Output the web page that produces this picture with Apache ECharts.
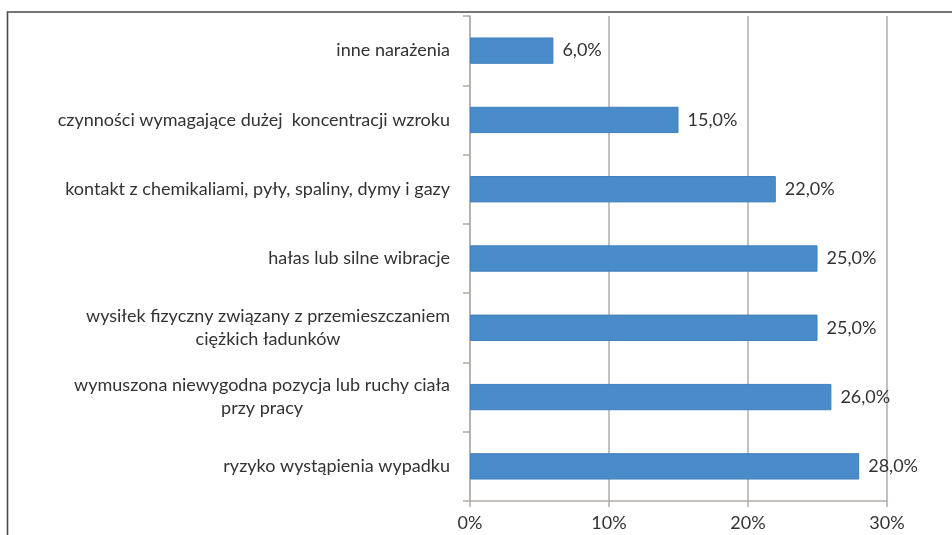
<!DOCTYPE html>
<html lang="pl">
  <head>
    <meta charset="UTF-8" />
    <title>Narażenia</title>
    <style>
      * {
        padding: 0;
        margin: 0;
      }
      html,
      body {
        width: 100%;
        height: 100%;
        background: #fff;
      }
      #main {
        width: 952px;
        height: 535px;
      }
    </style>
  </head>
  <body>
    <div id="main"></div>
    <script src="https://cdn.jsdelivr.net/npm/echarts@6/dist/echarts.min.js"></script>
    <script>
      // kategorie od dołu do góry (oś kategorii w echarts rośnie w górę)
      var categories = [
        'ryzyko wystąpienia wypadku',
        'wymuszona niewygodna pozycja lub ruchy ciała\nprzy pracy',
        'wysiłek fizyczny związany z przemieszczaniem\nciężkich ładunków',
        'hałas lub silne wibracje',
        'kontakt z chemikaliami, pyły, spaliny, dymy i gazy',
        'czynności wymagające dużej  koncentracji wzroku',
        'inne narażenia'
      ];
      var values = [28, 26, 25, 25, 22, 15, 6];
      var xTicks = [0, 10, 20, 30];

      var myChart = echarts.init(document.getElementById('main'));
      var font = 'Lato, "Open Sans", sans-serif';
      var textColor = '#333';
      var gridColor = '#b3aca8';

      var option = {
        animation: false,
        graphic: [
          {
            type: 'rect',
            shape: { x: 7.5, y: 12, width: 960, height: 540 },
            style: { fill: 'none', stroke: '#4a4a4a', lineWidth: 1.6 }
          }
        ],
        grid: {
          left: 470,
          right: 65,
          top: 16,
          bottom: 34,
          containLabel: false
        },
        xAxis: {
          type: 'value',
          min: 0,
          max: 30,
          interval: 10,
          axisLine: { show: true, lineStyle: { color: gridColor, width: 1.5 } },
          axisTick: { show: true, length: 6, lineStyle: { color: gridColor, width: 1.5 } },
          splitLine: { show: true, lineStyle: { color: gridColor, width: 1.5 } },
          axisLabel: {
            margin: 13,
            fontFamily: font,
            fontSize: 18,
            color: textColor,
            formatter: function (v) {
              return xTicks.indexOf(v) >= 0 ? v + '%' : '';
            }
          }
        },
        yAxis: {
          type: 'category',
          data: categories,
          axisLine: { show: true, lineStyle: { color: gridColor, width: 1.5 } },
          axisTick: { show: true, length: 7, lineStyle: { color: gridColor, width: 1.5 } },
          axisLabel: {
            margin: 20,
            fontFamily: font,
            fontSize: 18,
            color: textColor,
            lineHeight: 23,
            formatter: function (v) {
              return v
                .split('\n')
                .map(function (s) {
                  return '{c|' + s + '}';
                })
                .join('\n');
            },
            rich: {
              c: {
                align: 'center',
                fontFamily: font,
                fontSize: 18,
                color: textColor,
                lineHeight: 23
              }
            }
          }
        },
        series: [
          {
            type: 'bar',
            data: values,
            barCategoryGap: '62%',
            itemStyle: {
              color: '#4a8bc9',
              borderColor: '#3f7fbd',
              borderWidth: 1
            },
            label: {
              show: true,
              position: 'right',
              distance: 9,
              fontFamily: font,
              fontSize: 18,
              color: textColor,
              formatter: function (p) {
                return p.value.toFixed(1).replace('.', ',') + '%';
              }
            }
          }
        ]
      };
      myChart.setOption(option);
    </script>
  </body>
</html>
